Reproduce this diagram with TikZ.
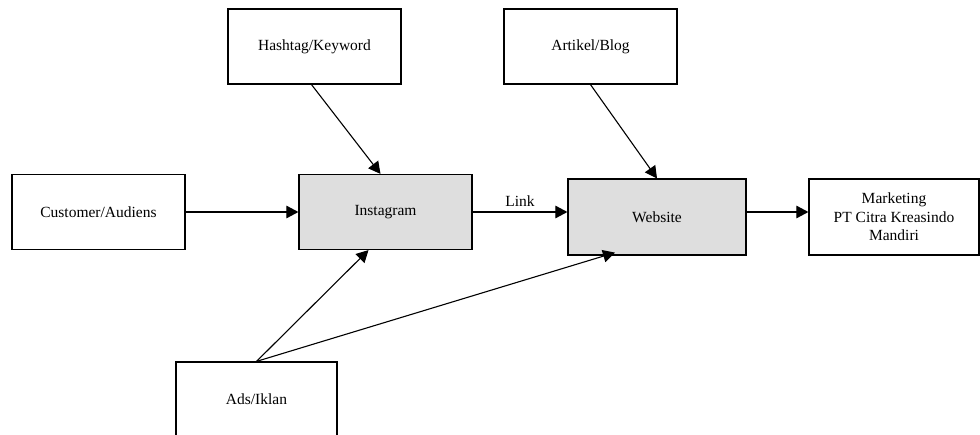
\documentclass[tikz,border=0pt]{standalone}
\usepackage{fontspec}
\setmainfont{Liberation Serif}
\usetikzlibrary{arrows.meta}
\tikzset{>={Triangle[length=12pt,width=12.5pt]}}
\tikzset{kotak/.style={draw, line width=1.2pt, minimum width=173pt, minimum height=75pt, inner sep=0pt, align=center, font=\fontsize{15.5}{18.5}\selectfont},
  abu/.style={kotak, fill=black!13}}

\begin{document}
\begin{tikzpicture}[x=1pt, y=-1pt, line width=1.1pt]
\useasboundingbox (0,0) rectangle (980,434);
\node[kotak] (hash) at (314.5,46.5) {Hashtag/Keyword};
\node[kotak] (artikel) at (590.5,46.5) {Artikel/Blog};
\node[kotak] (cust) at (98.5,212) {Customer/Audiens};
\node[abu] (insta) at (385.5,212) {Instagram};
\node[abu, minimum width=178pt, minimum height=76pt] (web) at (657,217) {Website};
\node[kotak, minimum width=170pt, minimum height=76pt] (market) at (894,217) {Marketing\\PT Citra Kreasindo\\Mandiri};
\node[kotak, minimum width=161pt] (ads) at (256.5,399.5) {Ads/Iklan};
% panah
\draw[->] ([xshift=-3pt]hash.south) -- ([xshift=-5pt]insta.north);
\draw[->] (artikel.south) -- (web.north);
\draw[->] (cust.east) -- (insta.west);
\draw[->] (insta.east) -- (web.west |- insta.east) node[midway, above, yshift=2pt, font=\fontsize{15.5}{18.5}\selectfont] {Link};
\draw[->] (web.east |- insta.east) -- (market.west |- insta.east);
\draw[->] (ads.north) -- ([xshift=-17pt]insta.south);
\draw[->] (ads.north) -- ([xshift=-42pt, yshift=3pt]web.south);
\end{tikzpicture}
\end{document}
